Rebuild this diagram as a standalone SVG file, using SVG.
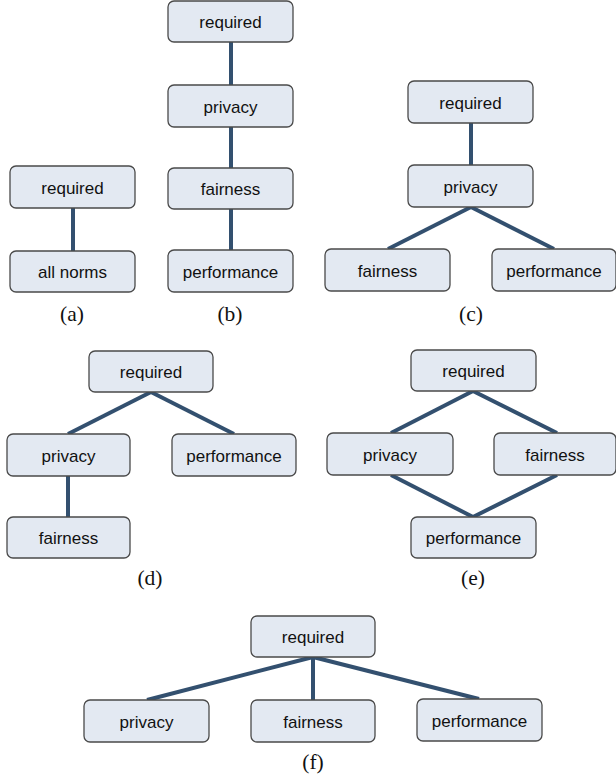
<svg xmlns="http://www.w3.org/2000/svg" width="616" height="780" viewBox="0 0 616 780">
<style>
.n rect{fill:#e3e9f2;stroke:#4a4a4a;stroke-width:1.3}
.n text{font-family:"Liberation Sans",Arial,sans-serif;font-size:17px;fill:#111;text-anchor:middle}
.e line{stroke:#33506f;stroke-width:4;stroke-linecap:butt}
.cap{font-family:"Liberation Serif","Times New Roman",serif;font-size:21.5px;fill:#111;text-anchor:middle}
</style>
<rect width="616" height="780" fill="#fff"/>
<g id="connectors" class="e">
<line x1="73" y1="208" x2="73" y2="251"/>
<line x1="231" y1="42" x2="231" y2="85"/>
<line x1="231" y1="127" x2="231" y2="168"/>
<line x1="231" y1="209" x2="231" y2="250"/>
<line x1="471" y1="123" x2="471" y2="165"/>
<line x1="471" y1="207" x2="388" y2="249"/>
<line x1="471" y1="207" x2="554" y2="249"/>
<line x1="151" y1="392" x2="68" y2="434"/>
<line x1="151" y1="392" x2="234" y2="434"/>
<line x1="68" y1="476" x2="68" y2="517"/>
<line x1="473" y1="391" x2="391" y2="433"/>
<line x1="473" y1="391" x2="557" y2="433"/>
<line x1="391" y1="475" x2="473" y2="517"/>
<line x1="557" y1="475" x2="473" y2="517"/>
<line x1="313" y1="657" x2="147" y2="700"/>
<line x1="313" y1="657" x2="313" y2="700"/>
<line x1="313" y1="657" x2="479" y2="699"/>
</g>
<g id="a-required" class="n"><rect x="10" y="166" width="125" height="42" rx="6"/><text x="72.5" y="193.5">required</text></g>
<g id="a-allnorms" class="n"><rect x="10" y="251" width="125" height="41" rx="6"/><text x="72.5" y="277.5">all norms</text></g>
<g id="b-required" class="n"><rect x="168" y="1" width="125" height="41" rx="6"/><text x="230.5" y="27.5">required</text></g>
<g id="b-privacy" class="n"><rect x="168" y="85" width="125" height="42" rx="6"/><text x="230.5" y="112.5">privacy</text></g>
<g id="b-fairness" class="n"><rect x="168" y="168" width="125" height="41" rx="6"/><text x="230.5" y="194.5">fairness</text></g>
<g id="b-performance" class="n"><rect x="168" y="250" width="125" height="42" rx="6"/><text x="230.5" y="277.5">performance</text></g>
<g id="c-required" class="n"><rect x="408" y="81" width="125" height="42" rx="6"/><text x="470.5" y="108.5">required</text></g>
<g id="c-privacy" class="n"><rect x="408" y="165" width="125" height="42" rx="6"/><text x="470.5" y="192.5">privacy</text></g>
<g id="c-fairness" class="n"><rect x="325" y="249" width="125" height="42" rx="6"/><text x="387.5" y="276.5">fairness</text></g>
<g id="c-performance" class="n"><rect x="492" y="249" width="124" height="42" rx="6"/><text x="554" y="276.5">performance</text></g>
<g id="d-required" class="n"><rect x="89" y="351" width="124" height="41" rx="6"/><text x="151" y="377.5">required</text></g>
<g id="d-privacy" class="n"><rect x="7" y="434" width="123" height="42" rx="6"/><text x="68.5" y="461.5">privacy</text></g>
<g id="d-performance" class="n"><rect x="172" y="434" width="124" height="42" rx="6"/><text x="234" y="461.5">performance</text></g>
<g id="d-fairness" class="n"><rect x="7" y="517" width="123" height="41" rx="6"/><text x="68.5" y="543.5">fairness</text></g>
<g id="e-required" class="n"><rect x="411" y="350" width="125" height="41" rx="6"/><text x="473.5" y="376.5">required</text></g>
<g id="e-privacy" class="n"><rect x="327" y="433" width="126" height="42" rx="6"/><text x="390" y="460.5">privacy</text></g>
<g id="e-fairness" class="n"><rect x="494" y="433" width="122" height="42" rx="6"/><text x="555" y="460.5">fairness</text></g>
<g id="e-performance" class="n"><rect x="411" y="517" width="125" height="41" rx="6"/><text x="473.5" y="543.5">performance</text></g>
<g id="f-required" class="n"><rect x="251" y="616" width="124" height="41" rx="6"/><text x="313" y="642.5">required</text></g>
<g id="f-privacy" class="n"><rect x="84" y="700" width="125" height="42" rx="6"/><text x="146.5" y="727.5">privacy</text></g>
<g id="f-fairness" class="n"><rect x="251" y="700" width="124" height="42" rx="6"/><text x="313" y="727.5">fairness</text></g>
<g id="f-performance" class="n"><rect x="417" y="699" width="125" height="42" rx="6"/><text x="479.5" y="726.5">performance</text></g>
<text class="cap" x="72" y="321">(a)</text>
<text class="cap" x="230" y="321">(b)</text>
<text class="cap" x="471" y="321">(c)</text>
<text class="cap" x="150" y="585">(d)</text>
<text class="cap" x="473" y="585">(e)</text>
<text class="cap" x="313" y="769">(f)</text>
</svg>
